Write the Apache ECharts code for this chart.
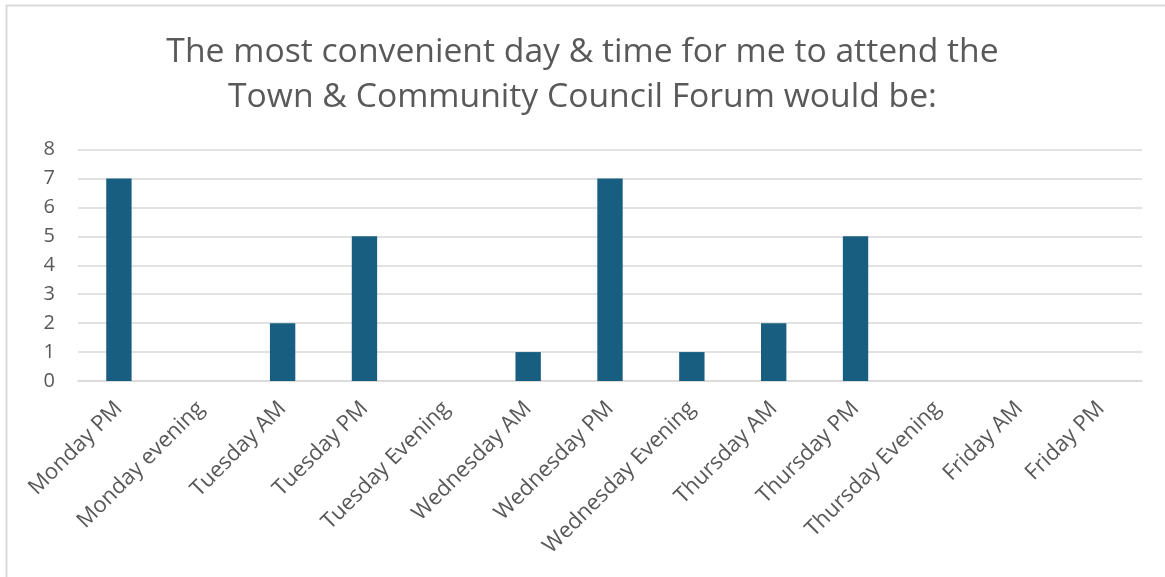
<!DOCTYPE html>
<html>
<head>
<meta charset="utf-8">
<script src="https://cdn.jsdelivr.net/npm/echarts@6/dist/echarts.min.js"></script>
<style>
html,body{margin:0;padding:0;background:#fff;}
#c{width:1165px;height:577px;}
</style>
</head>
<body>
<div id="c"></div>
<script>
const titleLines = ["The most convenient day & time for me to attend the", "Town & Community Council Forum would be:"];
const categories = ["Monday PM","Monday evening","Tuesday AM","Tuesday PM","Tuesday Evening","Wednesday AM","Wednesday PM","Wednesday Evening","Thursday AM","Thursday PM","Thursday Evening","Friday AM","Friday PM"];
const values = [7,0,2,5,0,1,7,1,2,5,0,0,0];
const yTicks = {min:0, max:8, interval:1};

const FONT = 'Open Sans, Liberation Sans, Arial, sans-serif';
const chart = echarts.init(document.getElementById('c'));
chart.setOption({
  backgroundColor:'#fff',
  animation:false,
  title:{
    text: titleLines.join('\n'),
    left:'center', top:25,
    textStyle:{fontFamily:FONT, fontSize:33.7, fontWeight:'normal', color:'#595959', lineHeight:45}
  },
  graphic:[{type:'rect', shape:{x:6.5,y:5.5,width:1200,height:600}, style:{fill:null, stroke:'#d9d9d9', lineWidth:2}, silent:true, z:-1}],
  grid:{left:78, right:23, top:149.5, bottom:196},
  xAxis:{
    type:'category', data:categories,
    axisLine:{lineStyle:{color:'#d9d9d9', width:1.5}},
    axisTick:{show:false},
    axisLabel:{rotate:45, interval:0, margin:24, color:'#595959', fontSize:22, fontFamily:FONT}
  },
  yAxis:{
    type:'value', min:yTicks.min, max:yTicks.max, interval:yTicks.interval,
    axisLine:{show:false}, axisTick:{show:false},
    splitLine:{lineStyle:{color:'#d9d9d9', width:1.5}},
    axisLabel:{margin:23, color:'#595959', fontSize:20, fontFamily:FONT}
  },
  series:[{type:'bar', data:values, barWidth:'31%', itemStyle:{color:'#185e80'}}]
});
</script>
</body>
</html>
